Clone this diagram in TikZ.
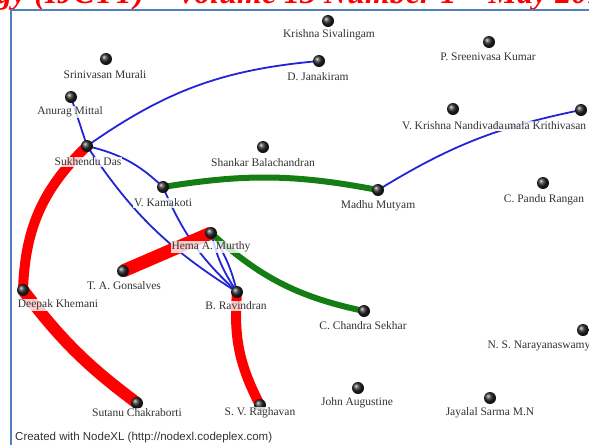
\documentclass[tikz,border=0pt]{standalone}
\usepackage{fontspec}
\setmainfont{Liberation Serif}
\newfontfamily\creditfont{Liberation Sans}
\usepackage{xcolor}

\definecolor{frameblue}{RGB}{79,129,189}
\definecolor{linkblue}{RGB}{35,35,215}
\definecolor{linkgreen}{RGB}{20,125,20}
\definecolor{linkred}{RGB}{255,0,0}

\pgfdeclarelayer{edges}
\pgfsetlayers{edges,main}

\tikzset{
  vtx/.style={circle, inner sep=0pt, minimum size=12pt, shading=ball, ball color=black!85},
  lbl/.style={fill=white, fill opacity=0.8, text opacity=1, text=black!80, inner sep=1pt,
              font=\fontsize{11.5}{12}\selectfont},
  blu/.style={draw=linkblue, line width=1.8pt},
  grn/.style={draw=linkgreen, line width=6pt},
  rd/.style={draw=linkred, line width=#1},
  rd/.default=11pt
}

\begin{document}
\begin{tikzpicture}[x=1pt,y=-1pt]
\useasboundingbox (0,0) rectangle (589,445);

% page header, cut at the top
\begin{scope}
  \clip (0,0) rectangle (589,445);
  \node[anchor=base west, inner sep=0pt, text=red,
        font=\bfseries\itshape\fontsize{32}{34}\selectfont] (header) at (-4,3)
        {gy (IJCTT) -- Volume 13 Number 1 -- May 2014};
\end{scope}
\draw[frameblue, line width=2pt] (11,445) -- (11,10) -- (589,10);

% vertices
\node[vtx] (kri) at (328,21) {};
\node[vtx] (psk) at (489,42) {};
\node[vtx] (jan) at (319,61) {};
\node[vtx] (mur) at (106,59) {};
\node[vtx] (mit) at (71,97) {};
\node[vtx] (das) at (87,146) {};
\node[vtx] (sha) at (263,147) {};
\node[vtx] (kam) at (163,187) {};
\node[vtx] (mad) at (378,190) {};
\node[vtx] (pan) at (543,183) {};
\node[vtx] (nan) at (453,109) {};
\node[vtx] (kal) at (581,110) {};
\node[vtx] (hem) at (211,233) {};
\node[vtx] (gon) at (123,271) {};
\node[vtx] (dee) at (23,290) {};
\node[vtx] (rav) at (237,292) {};
\node[vtx] (cha) at (364,311) {};
\node[vtx] (nar) at (583,330) {};
\node[vtx] (joh) at (358,388) {};
\node[vtx] (jay) at (490,398) {};
\node[vtx] (sut) at (137,403) {};
\node[vtx] (rag) at (260,405) {};

% edges
\begin{pgfonlayer}{edges}
  \path (mit.center) edge[blu] (das.center);
  \path (das.center) edge[blu, bend left=15] (jan.center);
  \path (das.center) edge[blu, bend left=15] (kam.center);
  \path (das.center) edge[blu, bend right=12] (rav.center);
  \path (kam.center) edge[blu, bend right=12] (rav.center);
  \path (hem.center) edge[blu, bend left=10] (rav.center);
  \path (hem.center) edge[blu, bend right=10] (rav.center);
  \path (mad.center) edge[blu, bend left=10] (kal.center);

  \path (kam.center) edge[grn, bend left=10] (mad.center);
  \path (hem.center) edge[grn, bend right=15] (cha.center);

  \path (das.center) edge[rd=10pt, bend right=22] (dee.center);
  \path (dee.center) edge[rd=12pt, bend right=8] (sut.center);
  \path (hem.center) edge[rd=13pt] (gon.center);
  \path (rav.center) edge[rd=10pt, bend right=16] (rag.center);
\end{pgfonlayer}

% labels
\node[lbl] (kri-t) at (329,35) {Krishna Sivalingam};
\node[lbl] (psk-t) at (488,57) {P. Sreenivasa Kumar};
\node[lbl] (jan-t) at (318,77) {D. Janakiram};
\node[lbl] (mur-t) at (105,75) {Srinivasan Murali};
\node[lbl] (mit-t) at (70,112) {Anurag Mittal};
\node[lbl] (das-t) at (88,162) {Sukhendu Das};
\node[lbl] (sha-t) at (263,163) {Shankar Balachandran};
\node[lbl] (kam-t) at (163,203) {V. Kamakoti};
\node[lbl] (mad-t) at (378,206) {Madhu Mutyam};
\node[lbl] (pan-t) at (544,200) {C. Pandu Rangan};
\node[lbl] (kal-t) at (540,126) {Kamala Krithivasan};
\node[lbl] (nan-t) at (453,126) {V. Krishna Nandivada};
\node[lbl] (hem-t) at (211,247) {Hema A. Murthy};
\node[lbl] (gon-t) at (124,286) {T. A. Gonsalves};
\node[lbl] (dee-t) at (58,305) {Deepak Khemani};
\node[lbl] (rav-t) at (236,306) {B. Ravindran};
\node[lbl] (cha-t) at (363,326) {C. Chandra Sekhar};
\node[lbl] (nar-t) at (539,346) {N. S. Narayanaswamy};
\node[lbl] (joh-t) at (357,403) {John Augustine};
\node[lbl] (jay-t) at (490,413) {Jayalal Sarma M.N};
\node[lbl] (sut-t) at (137,413) {Sutanu Chakraborti};
\node[lbl] (rag-t) at (260,413) {S. V. Raghavan};

\node[anchor=base west, inner sep=0pt, text=black!80,
      font=\creditfont\fontsize{11.5}{13}\selectfont] (credit) at (15,440)
      {Created with NodeXL (http://nodexl.codeplex.com)};
\end{tikzpicture}
\end{document}
